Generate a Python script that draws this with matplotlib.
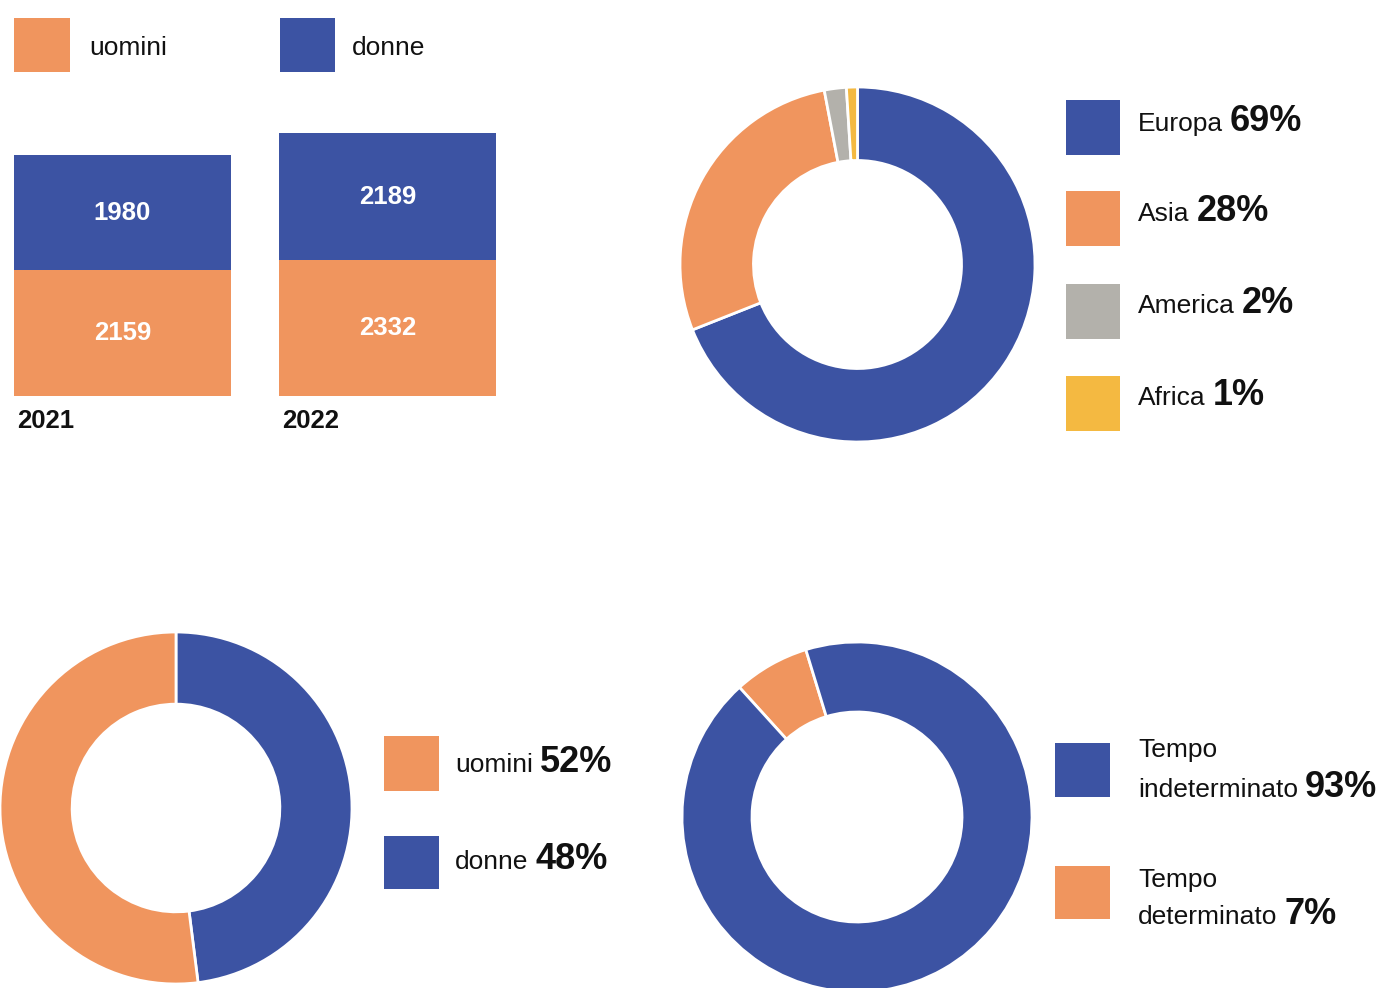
import matplotlib
matplotlib.use("Agg")
import matplotlib.pyplot as plt
from matplotlib.patches import Rectangle

plt.rcParams['font.family'] = ['Liberation Sans', 'DejaVu Sans']

# ---------------- data ----------------
years = ["2021", "2022"]
uomini_counts = [2159, 2332]
donne_counts = [1980, 2189]

regions = ["Europa", "Asia", "America", "Africa"]
region_pct = [69, 28, 2, 1]

gender_labels = ["uomini", "donne"]
gender_pct = [52, 48]

contract_labels = ["Tempo\nindeterminato", "Tempo\ndeterminato"]
contract_pct = [93, 7]

# ---------------- style ----------------
BLUE = "#3c53a3"
ORANGE = "#f0955e"
GRAY = "#b3b1ab"
YELLOW = "#f4b941"
region_colors = [BLUE, ORANGE, GRAY, YELLOW]

W, H = 1382, 988
fig = plt.figure(figsize=(W / 100, H / 100), dpi=100)
fig.patch.set_facecolor("white")


def px_axes(x0, y0, w, h, **kw):
    """axes from a pixel box (top-left origin)"""
    return fig.add_axes([x0 / W, 1 - (y0 + h) / H, w / W, h / H], **kw)


# ---------------- stacked bars ----------------
bar_left, bar_right, bar_bottom, bar_top = 14, 496, 396, 133
axb = px_axes(bar_left, bar_top, bar_right - bar_left, bar_bottom - bar_top)
xpos = list(range(len(years)))
bw = 217 / 265
axb.bar(xpos, uomini_counts, width=bw, color=ORANGE, linewidth=0)
axb.bar(xpos, donne_counts, width=bw, bottom=uomini_counts, color=BLUE, linewidth=0)
totals = [u + d for u, d in zip(uomini_counts, donne_counts)]
axb.set_xlim(-bw / 2, len(years) - 1 + bw / 2)
axb.set_ylim(0, max(totals))
axb.axis("off")
for i in xpos:
    axb.text(i, uomini_counts[i] / 2, str(uomini_counts[i]), ha="center", va="center",
             color="white", fontsize=18.5, fontweight="bold")
    axb.text(i, uomini_counts[i] + donne_counts[i] / 2, str(donne_counts[i]), ha="center",
             va="center", color="white", fontsize=18.5, fontweight="bold")

# ---------------- donuts ----------------
def donut(cx, cy, r, values, colors, start, ccw, width):
    ax = px_axes(cx - r, cy - r, 2 * r, 2 * r)
    ax.pie(values, colors=colors, startangle=start, counterclock=ccw, radius=1,
           wedgeprops=dict(width=width, edgecolor="white", linewidth=2))
    ax.set_xlim(-1, 1)
    ax.set_ylim(-1, 1)
    ax.set_aspect("equal")
    ax.axis("off")
    return ax

donut(857.5, 264.5, 177.5, region_pct, region_colors, 90, False, 0.414)
# bottom-left: donne clockwise from top, then uomini
donut(176, 808, 176, [gender_pct[1], gender_pct[0]], [BLUE, ORANGE], 90, False, 0.41)
# bottom-right: determinato counter-clockwise from ~107deg, then indeterminato
donut(857, 817, 175, [contract_pct[1], contract_pct[0]], [ORANGE, BLUE], 107, True, 0.40)

# ---------------- overlay for legends & labels ----------------
ov = fig.add_axes([0, 0, 1, 1], zorder=10)
ov.set_xlim(0, W)
ov.set_ylim(H, 0)
ov.axis("off")
ov.patch.set_alpha(0)

REG = 19
BIG = 26
TXT = "#111111"


def swatch(x0, y0, x1, y1, c):
    ov.add_patch(Rectangle((x0, y0), x1 - x0, y1 - y0, facecolor=c, edgecolor="none"))


pairs = []


def label(x, y, txt, pct):
    t = ov.text(x, y, txt, fontsize=REG, va="baseline", ha="left", color=TXT)
    p = ov.text(x, y, pct, fontsize=BIG, fontweight="bold", va="baseline", ha="left",
                color=TXT)
    pairs.append((t, p))


# top-left legend
swatch(14, 18, 70, 72, ORANGE)
ov.text(89, 55, gender_labels[0], fontsize=REG, va="baseline", color=TXT)
swatch(280, 18, 335, 72, BLUE)
ov.text(352, 55, gender_labels[1], fontsize=REG, va="baseline", color=TXT)

# year labels
for x, yr in zip([17, 282], years):
    ov.text(x, 428, yr, fontsize=18.5, fontweight="bold", va="baseline", color=TXT)

# region legend
sq_y = [100, 191, 284, 376]
base_y = [131, 221, 313, 405]
for name, pct, c, sy, by in zip(regions, region_pct, region_colors, sq_y, base_y):
    swatch(1066, sy, 1120, sy + 55, c)
    label(1138, by, name, f"{pct}%")

# gender legend
swatch(384, 736, 439, 791, ORANGE)
label(455, 772, gender_labels[0], f"{gender_pct[0]}%")
swatch(384, 836, 439, 889, BLUE)
label(455, 869, gender_labels[1], f"{gender_pct[1]}%")

# contract legend
swatch(1055, 743, 1110, 797, BLUE)
ov.text(1138, 757, contract_labels[0].split("\n")[0], fontsize=REG, va="baseline", color=TXT)
label(1138, 797, contract_labels[0].split("\n")[1], f"{contract_pct[0]}%")
swatch(1055, 866, 1110, 919, ORANGE)
ov.text(1138, 887, contract_labels[1].split("\n")[0], fontsize=REG, va="baseline", color=TXT)
label(1138, 924, contract_labels[1].split("\n")[1], f"{contract_pct[1]}%")

# place bold percentages right after their regular text
fig.canvas.draw()
r = fig.canvas.get_renderer()
inv = ov.transData.inverted()
for t, p in pairs:
    bb = t.get_window_extent(renderer=r)
    xend = inv.transform((bb.x1, bb.y0))[0]
    p.set_x(xend + 7)

fig.savefig("out.png", dpi=100, facecolor="white")
